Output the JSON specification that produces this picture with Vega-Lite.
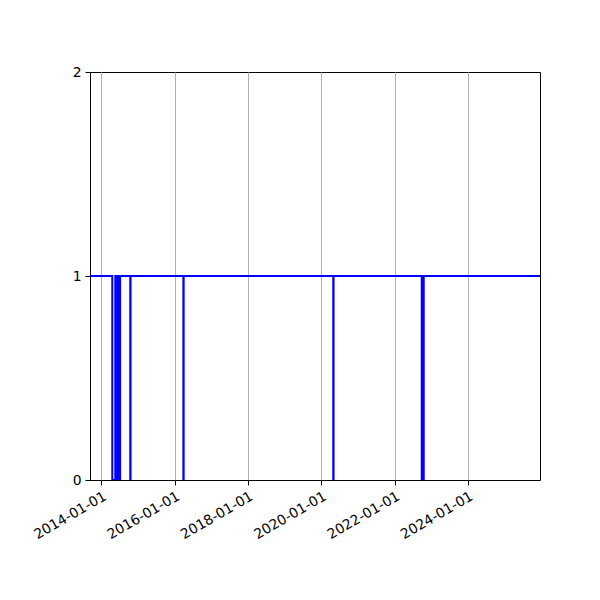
{
  "$schema": "https://vega.github.io/schema/vega-lite/v6.json",
  "width": 450,
  "height": 408,
  "autosize": {"type": "none"},
  "padding": {"left": 90, "top": 72, "right": 60, "bottom": 120},
  "background": "white",
  "config": {
    "font": "DejaVu Sans",
    "view": {"stroke": "black", "strokeWidth": 1},
    "axis": {
      "labelFont": "DejaVu Sans",
      "labelFontSize": 13.9,
      "labelColor": "black",
      "domainColor": "black",
      "tickColor": "black",
      "tickSize": 5,
      "labelPadding": 4,
      "labelOverlap": false
    }
  },
  "data": {
    "values": [
      {"date": "2013-09-10", "value": 1},
      {"date": "2014-04-20", "value": 0},
      {"date": "2014-05-20", "value": 1},
      {"date": "2014-05-29", "value": 0},
      {"date": "2014-06-08", "value": 1},
      {"date": "2014-06-17", "value": 0},
      {"date": "2014-06-27", "value": 1},
      {"date": "2014-07-06", "value": 0},
      {"date": "2014-07-07", "value": 1},
      {"date": "2014-10-16", "value": 0},
      {"date": "2014-10-19", "value": 1},
      {"date": "2016-03-28", "value": 0},
      {"date": "2016-03-31", "value": 1},
      {"date": "2020-04-29", "value": 0},
      {"date": "2020-05-02", "value": 1},
      {"date": "2022-09-27", "value": 0},
      {"date": "2022-10-17", "value": 1},
      {"date": "2025-12-18", "value": 1}
    ]
  },
  "mark": {"type": "line", "interpolate": "step-after", "color": "#0000ff", "strokeWidth": 2, "clip": true},
  "encoding": {
    "x": {
      "field": "date",
      "type": "temporal",
      "title": null,
      "scale": {
        "type": "utc",
        "domain": [
          {"year": 2013, "month": 9, "date": 10, "utc": true},
          {"year": 2025, "month": 12, "date": 18, "utc": true}
        ]
      },
      "axis": {
        "values": [
          {"year": 2014, "month": 1, "date": 1, "utc": true},
          {"year": 2016, "month": 1, "date": 1, "utc": true},
          {"year": 2018, "month": 1, "date": 1, "utc": true},
          {"year": 2020, "month": 1, "date": 1, "utc": true},
          {"year": 2022, "month": 1, "date": 1, "utc": true},
          {"year": 2024, "month": 1, "date": 1, "utc": true}
        ],
        "format": "%Y-%m-%d",
        "labelAngle": -30,
        "labelAlign": "right",
        "labelBaseline": "top",
        "grid": true,
        "gridColor": "#b0b0b0",
        "gridWidth": 1,
        "domain": false
      }
    },
    "y": {
      "field": "value",
      "type": "quantitative",
      "title": null,
      "scale": {"domain": [0, 2], "nice": false},
      "axis": {"values": [0, 1, 2], "labelExpr": "format(datum.value, '.0f')", "grid": false, "domain": false, "zindex": 1}
    }
  }
}
